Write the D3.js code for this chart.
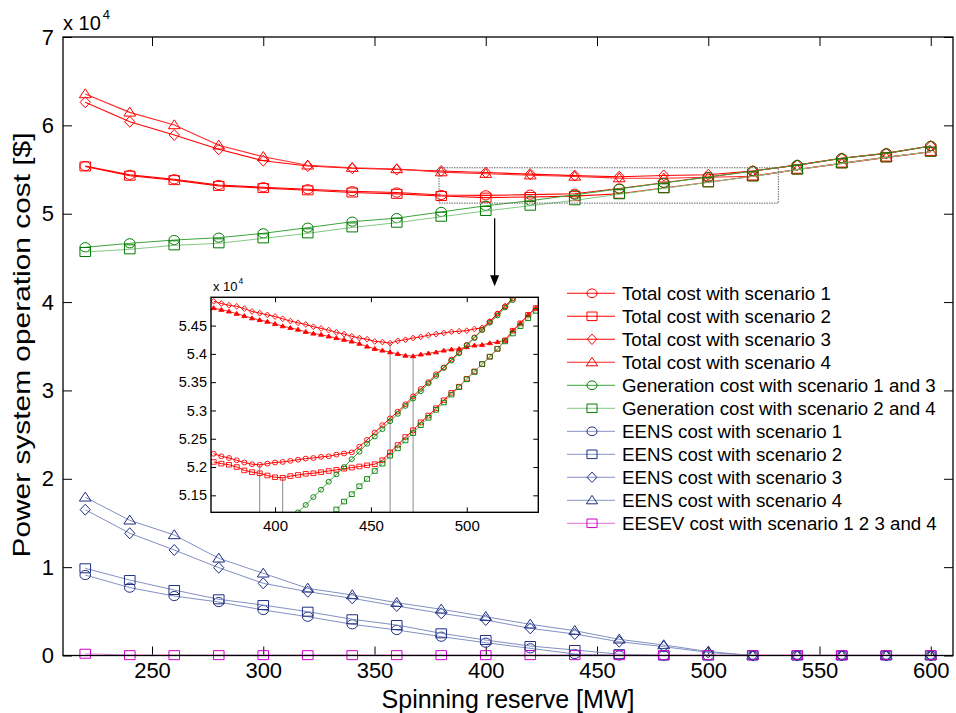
<!DOCTYPE html>
<html><head><meta charset="utf-8">
<script src="https://cdn.jsdelivr.net/npm/d3@7"></script>
<style>
body{margin:0;background:#fff;}
svg text{font-family:"Liberation Sans",Arial,sans-serif;fill:#000;}
</style>
</head><body>
<svg id="c" width="956" height="713"></svg>
<script>
// ---------- main chart data (values x 10^4 $) ----------
const reserve = [220,240,260,280,300,320,340,360,380,400,420,440,460,480,500,520,540,560,580,600];
const totalS1 = [5.54,5.44,5.39,5.325,5.30,5.277,5.255,5.24,5.212,5.208,5.216,5.226,5.286,5.35,5.416,5.484,5.55,5.627,5.683,5.766];
const totalS2 = [5.535,5.43,5.38,5.315,5.29,5.265,5.24,5.225,5.20,5.182,5.189,5.199,5.226,5.291,5.356,5.424,5.50,5.57,5.638,5.702];
const totalS3 = [6.261,6.041,5.891,5.729,5.60,5.54,5.514,5.50,5.484,5.466,5.448,5.431,5.419,5.433,5.441,5.484,5.55,5.627,5.683,5.766];
const totalS4 = [6.355,6.147,6.004,5.774,5.645,5.548,5.521,5.506,5.471,5.453,5.436,5.422,5.403,5.401,5.412,5.424,5.50,5.57,5.638,5.702];
const genS13  = [4.62,4.665,4.702,4.729,4.778,4.842,4.91,4.95,5.02,5.09,5.147,5.214,5.281,5.348,5.415,5.482,5.55,5.627,5.683,5.766];
const genS24  = [4.567,4.597,4.642,4.665,4.721,4.778,4.845,4.898,4.966,5.031,5.091,5.152,5.22,5.287,5.355,5.422,5.50,5.57,5.638,5.702];
const eensS1  = [0.911,0.768,0.673,0.605,0.515,0.439,0.353,0.289,0.213,0.145,0.081,0.017,0,0,0,0,0,0,0,0];
const eensS2  = [0.987,0.854,0.741,0.636,0.571,0.496,0.410,0.345,0.251,0.175,0.107,0.062,0.015,0,0,0,0,0,0,0];
const eensS3  = [1.65,1.383,1.194,0.994,0.817,0.722,0.647,0.56,0.477,0.402,0.307,0.243,0.156,0.10,0.035,0,0,0,0,0];
const eensS4  = [1.79,1.53,1.364,1.10,0.93,0.76,0.685,0.598,0.523,0.439,0.353,0.281,0.183,0.119,0.045,0,0,0,0,0];
const eesev   = [0.02,0.004,0.004,0.004,0.004,0.004,0.004,0.004,0.004,0.004,0.004,0.004,0.004,0.004,0.004,0.004,0.004,0.004,0.004,0.004];

const xTicks = [250,300,350,400,450,500,550,600];
const yTicks = [0,1,2,3,4,5,6,7];

const legendLabels = [
  "Total cost with scenario 1","Total cost with scenario 2","Total cost with scenario 3","Total cost with scenario 4",
  "Generation cost with scenario 1 and 3","Generation cost with scenario 2 and 4",
  "EENS cost with scenario 1","EENS cost with scenario 2","EENS cost with scenario 3","EENS cost with scenario 4",
  "EESEV cost with scenario 1 2 3 and 4"];

// ---------- inset (zoom) data ----------
const insetReserve = [368,372,376,380,384,388,392,396,400,404,408,412,416,420,424,428,432,436,440,444,448,452,456,460,464,468,472,476,480,484,488,492,496,500,504,508,512,516,520,524,528,532,536];
const insetTotalS1 = [5.2235,5.219,5.216,5.212,5.208,5.205,5.204,5.206,5.208,5.209,5.211,5.213,5.215,5.216,5.218,5.219,5.222,5.224,5.226,5.236,5.248,5.261,5.274,5.286,5.298,5.311,5.325,5.338,5.350,5.364,5.376,5.390,5.403,5.416,5.429,5.443,5.457,5.471,5.484,5.498,null,null,null];
const insetTotalS2 = [5.209,5.206,5.204,5.200,5.194,5.191,5.189,5.185,5.182,5.181,5.184,5.186,5.188,5.189,5.191,5.193,5.195,5.197,5.199,5.201,5.203,5.205,5.212,5.226,5.239,5.253,5.265,5.279,5.291,5.304,5.318,5.331,5.342,5.356,5.369,5.382,5.395,5.409,5.424,5.441,5.454,5.469,5.481];
const insetTotalS3 = [5.493,5.489,5.486,5.484,5.480,5.475,5.472,5.469,5.466,5.462,5.458,5.455,5.452,5.448,5.445,5.442,5.438,5.435,5.431,5.428,5.426,5.422,5.421,5.419,5.423,5.425,5.428,5.430,5.433,5.435,5.437,5.439,5.440,5.441,5.444,5.446,5.457,5.471,5.484,5.498,null,null,null];
const insetTotalS4 = [5.481,5.478,5.475,5.471,5.467,5.463,5.460,5.457,5.453,5.449,5.446,5.443,5.439,5.436,5.434,5.431,5.428,5.425,5.422,5.418,5.413,5.409,5.406,5.403,5.400,5.397,5.396,5.399,5.401,5.403,5.406,5.408,5.409,5.412,5.415,5.416,5.419,5.421,5.424,5.441,5.454,5.469,5.481];
const insetGenS13 = [null,null,null,null,null,null,null,null,null,null,null,5.120,5.133,5.147,5.160,5.174,5.187,5.200,5.214,5.227,5.241,5.254,5.267,5.281,5.294,5.308,5.321,5.334,5.348,5.361,5.375,5.388,5.401,5.415,5.428,5.442,5.455,5.468,5.482,5.495,null,null,null];
const insetGenS24 = [null,null,null,null,null,null,null,null,null,null,null,null,null,null,null,null,5.125,5.139,5.152,5.166,5.179,5.193,5.206,5.220,5.233,5.247,5.260,5.274,5.287,5.301,5.314,5.328,5.341,5.355,5.368,5.382,5.395,5.409,5.422,5.436,5.449,5.463,5.476];
const insetXTicks = [400,450,500];
const insetYTicks = [5.15,5.2,5.25,5.3,5.35,5.4,5.45];

// zoom box and arrow (data units of main chart)
const zoomBoxX = [379,531.5];
const zoomBoxY = [5.12,5.52];
const arrowX = 404;
const arrowY = [4.95,4.18];

// ---------- styles ----------
const RED="#ff0000", GM="#007a00", GL1="#3aa63a", GL2="#84c884", BM="#1f2f80", BL="#8391c2", MM="#cc00cc", ML="#e58be5";
const styles = [
  {line:RED,mark:RED,shape:"circle",lw:1.1},
  {line:RED,mark:RED,shape:"square",lw:1.1},
  {line:RED,mark:RED,shape:"diamond",lw:1.1},
  {line:"#ff2a2a",mark:RED,shape:"triangle",lw:1.1},
  {line:GL1,mark:GM,shape:"circle",lw:1},
  {line:GL2,mark:GM,shape:"square",lw:1},
  {line:BL,mark:BM,shape:"circle",lw:1},
  {line:BL,mark:BM,shape:"square",lw:1},
  {line:BL,mark:BM,shape:"diamond",lw:1},
  {line:BL,mark:BM,shape:"triangle",lw:1},
  {line:ML,mark:MM,shape:"square",lw:1.2}
];
const mainValues = [totalS1,totalS2,totalS3,totalS4,genS13,genS24,eensS1,eensS2,eensS3,eensS4,eesev];
const insetValues = [insetTotalS1,insetTotalS2,insetTotalS3,insetTotalS4,insetGenS13,insetGenS24];

function markerPath(shape, s){
  const k=s;
  if(shape==="circle"){const rx=5.3*k, ry=4.6*k; return `M${-rx},0A${rx},${ry} 0 1,0 ${rx},0A${rx},${ry} 0 1,0 ${-rx},0Z`;}
  if(shape==="square"){const w=5.3*k,h=4.5*k; return `M${-w},${-h}H${w}V${h}H${-w}Z`;}
  if(shape==="diamond"){const w=5.1*k,h=5.5*k; return `M0,${-h}L${w},0L0,${h}L${-w},0Z`;}
  if(shape==="triangle"){const w=5.9*k,t=5.2*k,b=3.7*k; return `M0,${-t}L${w},${b}L${-w},${b}Z`;}
}

const svg = d3.select("#c");
svg.append("rect").attr("width",956).attr("height",713).attr("fill","#fff");

// ---------- main axes ----------
const x = d3.scaleLinear().domain([210,610]).range([63,953]);
const y = d3.scaleLinear().domain([0,7]).range([655.5,37]);

function styleAxis(g, fs){
  g.select(".domain").remove();
  g.attr("font-size",fs).attr("font-family","Liberation Sans, Arial, sans-serif");
  g.selectAll(".tick line").attr("stroke","#000").attr("stroke-width",1);
  g.selectAll(".tick text").attr("fill","#000");
}
const gxB = svg.append("g").attr("transform",`translate(0,${y(0)})`)
  .call(d3.axisBottom(x).tickValues(xTicks).tickSize(-9).tickPadding(7));
styleAxis(gxB,22);
const gxT = svg.append("g").attr("transform",`translate(0,${y(7)})`)
  .call(d3.axisTop(x).tickValues(xTicks).tickSize(-9).tickFormat(""));
styleAxis(gxT,22);
const gyL = svg.append("g").attr("transform",`translate(${x(210)},0)`)
  .call(d3.axisLeft(y).tickValues(yTicks).tickSize(-9).tickPadding(9).tickFormat(d3.format("d")));
styleAxis(gyL,22);
const gyR = svg.append("g").attr("transform",`translate(${x(610)},0)`)
  .call(d3.axisRight(y).tickValues(yTicks).tickSize(-9).tickFormat(""));
styleAxis(gyR,22);

// ---------- main series ----------
const plot = svg.append("g");
const line = d3.line().defined(d=>d[1]!=null).x(d=>x(d[0])).y(d=>y(d[1]));
mainValues.forEach((vals,i)=>{
  const st=styles[i];
  const pts = reserve.map((r,j)=>[r,vals[j]]);
  plot.append("path").attr("d",line(pts)).attr("fill","none").attr("stroke",st.line).attr("stroke-width",st.lw);
  plot.selectAll(null).data(pts).enter().append("path")
    .attr("transform",d=>`translate(${x(d[0])},${y(d[1])})`)
    .attr("d",markerPath(st.shape,1)).attr("fill","none").attr("stroke",st.mark).attr("stroke-width",1);
});

// frame
svg.append("rect").attr("x",x(210)).attr("y",y(7)).attr("width",x(610)-x(210)).attr("height",y(0)-y(7))
  .attr("fill","none").attr("stroke","#000").attr("stroke-width",1.3);

// zoom box
svg.append("rect").attr("x",x(zoomBoxX[0])).attr("y",y(zoomBoxY[1]))
  .attr("width",x(zoomBoxX[1])-x(zoomBoxX[0])).attr("height",y(zoomBoxY[0])-y(zoomBoxY[1]))
  .attr("fill","none").attr("stroke","#666").attr("stroke-width",1).attr("stroke-dasharray","1.5,1");

// arrow
svg.append("line").attr("x1",x(arrowX)).attr("x2",x(arrowX)).attr("y1",y(arrowY[0])).attr("y2",y(arrowY[1])-9)
  .attr("stroke","#000").attr("stroke-width",1.3);
svg.append("path").attr("transform",`translate(${x(arrowX)},${y(arrowY[1])})`)
  .attr("d","M0,0L-4.5,-11L4.5,-11Z").attr("fill","#000");

// axis labels
svg.append("text").attr("x",508).attr("y",708).attr("text-anchor","middle").attr("font-size",25).text("Spinning reserve [MW]");
svg.append("text").attr("transform","translate(30,345) rotate(-90)").attr("text-anchor","middle").attr("font-size",24)
  .attr("textLength",425).attr("lengthAdjust","spacingAndGlyphs")
  .text("Power system operation cost [$]");
const ex = svg.append("text").attr("x",63).attr("y",30).attr("font-size",20);
ex.append("tspan").text("x 10");
ex.append("tspan").attr("font-size",13).attr("dy",-11).attr("dx",2).text("4");

// ---------- legend ----------
const lg = svg.append("g");
legendLabels.forEach((lab,i)=>{
  const st=styles[i];
  const yy = 293.3 + i*23;
  lg.append("line").attr("x1",567).attr("x2",615).attr("y1",yy).attr("y2",yy).attr("stroke",st.line).attr("stroke-width",st.lw);
  lg.append("path").attr("transform",`translate(592,${yy})`).attr("d",markerPath(st.shape,0.95))
    .attr("fill","none").attr("stroke",st.mark).attr("stroke-width",1);
  lg.append("text").attr("x",622).attr("y",yy+6.8).attr("font-size",18.7).text(lab);
});

// ---------- inset ----------
const xi = d3.scaleLinear().domain([366.6,537.3]).range([211,538.3]);
const yi = d3.scaleLinear().domain([5.12,5.5]).range([512.3,297.3]);
const ig = svg.append("g");
ig.append("rect").attr("x",211).attr("y",297.3).attr("width",538.3-211).attr("height",512.3-297.3).attr("fill","#fff");
svg.append("clipPath").attr("id","ic").append("rect").attr("x",211).attr("y",297.3).attr("width",538.3-211).attr("height",512.3-297.3);
const ip = ig.append("g").attr("clip-path","url(#ic)");

// vertical lines at the minima of total cost curves
insetValues.slice(0,4).forEach(vals=>{
  const idx = d3.minIndex(vals, v=>v==null?Infinity:v);
  ip.append("line").attr("x1",xi(insetReserve[idx])).attr("x2",xi(insetReserve[idx]))
    .attr("y1",yi(vals[idx])).attr("y2",yi(5.12)).attr("stroke","#8a8a8a").attr("stroke-width",1);
});
const iline = d3.line().defined(d=>d[1]!=null).x(d=>xi(d[0])).y(d=>yi(d[1]));
const insetMark = {circle:"M-2.6,0A2.6,2.4 0 1,0 2.6,0A2.6,2.4 0 1,0 -2.6,0Z",
  square:"M-2.5,-2.3H2.5V2.3H-2.5Z", diamond:"M0,-2.9L2.7,0L0,2.9L-2.7,0Z", triangle:"M0,-2.3L2.6,1.6L-2.6,1.6Z"};
insetValues.forEach((vals,i)=>{
  const st=styles[i];
  const pts = insetReserve.map((r,j)=>[r,vals[j]]).filter(d=>d[1]!=null);
  ip.append("path").attr("d",iline(pts)).attr("fill","none").attr("stroke",st.line).attr("stroke-width",1);
  ip.selectAll(null).data(pts).enter().append("path")
    .attr("transform",d=>`translate(${xi(d[0])},${yi(d[1])})`)
    .attr("d",insetMark[st.shape])
    .attr("fill", st.shape==="triangle"? st.mark : "none")
    .attr("stroke",st.mark).attr("stroke-width",0.9);
});
// inset axes
const ixB = ig.append("g").attr("transform",`translate(0,${yi(5.12)})`)
  .call(d3.axisBottom(xi).tickValues(insetXTicks).tickSize(-5).tickPadding(8.5));
styleAxis(ixB,15);
const ixT = ig.append("g").attr("transform",`translate(0,${yi(5.5)})`)
  .call(d3.axisTop(xi).tickValues(insetXTicks).tickSize(-5).tickFormat(""));
styleAxis(ixT,15);
const iyL = ig.append("g").attr("transform",`translate(${xi(366.6)},0)`)
  .call(d3.axisLeft(yi).tickValues(insetYTicks).tickSize(-5).tickPadding(4).tickFormat(d3.format("")));
styleAxis(iyL,14.5);
const iyR = ig.append("g").attr("transform",`translate(${xi(537.3)},0)`)
  .call(d3.axisRight(yi).tickValues(insetYTicks).tickSize(-5).tickFormat(""));
styleAxis(iyR,14.5);
ig.append("rect").attr("x",211).attr("y",297.3).attr("width",538.3-211).attr("height",512.3-297.3)
  .attr("fill","none").attr("stroke","#000").attr("stroke-width",1.4);
const iex = ig.append("text").attr("x",213).attr("y",291).attr("font-size",13);
iex.append("tspan").text("x 10");
iex.append("tspan").attr("font-size",8.5).attr("dy",-7).attr("dx",1).text("4");
</script>
</body></html>
